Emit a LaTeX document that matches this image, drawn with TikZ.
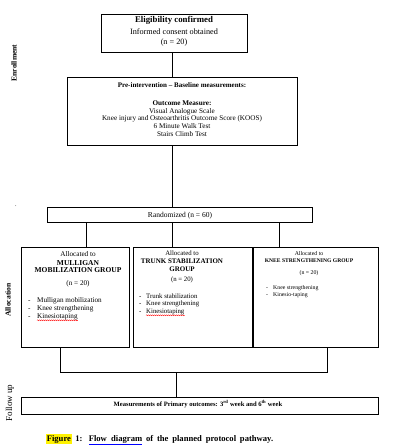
\documentclass[tikz,border=0pt]{standalone}
\usepackage{fontspec}
\setmainfont{Liberation Serif}
\usetikzlibrary{decorations.pathmorphing}
\newcommand\fsz[1]{\fontsize{#1}{#1}\selectfont}
\begin{document}
\begin{tikzpicture}[x=1pt,y=-1pt,
  box/.style={draw, line width=0.75pt, anchor=north west, inner sep=0pt},
  conn/.style={line width=0.75pt},
  t/.style={inner sep=0pt, anchor=base},
  tl/.style={inner sep=0pt, anchor=base west},
  side/.style={inner sep=0pt, anchor=center, rotate=90},
  wavy/.style={red, line width=0.4pt, decorate, decoration={snake, amplitude=0.5pt, segment length=2pt}}]
\useasboundingbox (0,0) rectangle (400,447);
\fill[white] (0,0) rectangle (400,447);

% side labels
\node[side, font=\bfseries\fsz{7.6}] (lenr) at (14,63) {Enrollment};
\node[side, font=\bfseries\fsz{7.6}] (lall) at (8,300) {Allocation};
\node[side, font=\fsz{9}] (lfol) at (10,403) {Follow up};
\node[t, font=\fsz{6}] (dot1) at (16,206) {.};
\node[t, font=\fsz{6}] (dot2) at (62,415) {.};

% boxes
\node[box, minimum width=146pt, minimum height=38pt] (elig) at (101,14) {};
\node[box, minimum width=230pt, minimum height=68pt] (pre) at (67,77) {};
\node[box, minimum width=265pt, minimum height=15pt] (rand) at (47,207) {};
\node[box, minimum width=108pt, minimum height=100pt] (g1) at (21,247) {};
\node[box, minimum width=119pt, minimum height=100pt] (g2) at (133,247) {};
\node[box, minimum width=125pt, minimum height=100pt] (g3) at (253,247) {};
\node[box, minimum width=357pt, minimum height=17pt] (meas) at (21,397) {};

% eligibility text
\node[t, font=\bfseries\fsz{8.8}] (eligA) at (174,23) {Eligibility confirmed};
\node[t, font=\fsz{8.2}] (eligB) at (174,34) {Informed consent obtained};
\node[t, font=\fsz{8.2}] (eligC) at (174,44.5) {(n = 20)};

% pre-intervention text
\node[t, font=\bfseries\fsz{7}] (preA) at (182,87.5) {Pre-intervention – Baseline measurements:};
\node[t, font=\bfseries\fsz{7.2}] (preB) at (182,105.5) {Outcome Measure:};
\node[t, font=\fsz{7.2}] (preC) at (182,113) {Visual Analogue Scale};
\node[t, font=\fsz{7.2}] (preD) at (182,120.5) {Knee injury and Osteoarthritis Outcome Score (KOOS)};
\node[t, font=\fsz{7.2}] (preE) at (182,128.5) {6 Minute Walk Test};
\node[t, font=\fsz{7.2}] (preF) at (182,136.5) {Stairs Climb Test};

% randomized
\node[t, font=\fsz{7.5}] (randT) at (180,217.5) {Randomized (n = 60)};

% group 1
\node[t, font=\fsz{7.2}] (g1a) at (78,256.5) {Allocated to};
\node[t, font=\bfseries\fsz{7.5}] (g1b) at (78,265.5) {MULLIGAN};
\node[t, font=\bfseries\fsz{7.5}] (g1c) at (78,272.5) {MOBILIZATION GROUP};
\node[t, font=\fsz{7.2}] (g1d) at (78,285.5) {(n = 20)};
\node[tl, font=\fsz{7.2}] (g1e0) at (28,302.5) {-};
\node[tl, font=\fsz{7.2}] (g1e) at (37,302.5) {Mulligan mobilization};
\node[tl, font=\fsz{7.2}] (g1f0) at (28,310) {-};
\node[tl, font=\fsz{7.2}] (g1f) at (37,310) {Knee strengthening};
\node[tl, font=\fsz{7.2}] (g1g0) at (28,318.5) {-};
\node[tl, font=\fsz{7.2}] (g1g) at (37,318.5) {Kinesiotaping};
\draw[wavy] ([yshift=-1.8pt]g1g.base west) -- ([yshift=-1.8pt]g1g.base east);

% group 2
\node[t, font=\fsz{6.8}] (g2a) at (182,255) {Allocated to};
\node[t, font=\bfseries\fsz{7}] (g2b) at (182,263.5) {TRUNK STABILIZATION};
\node[t, font=\bfseries\fsz{7}] (g2c) at (182,271) {GROUP};
\node[t, font=\fsz{6.8}] (g2d) at (182,281) {(n = 20)};
\node[tl, font=\fsz{6.8}] (g2e0) at (139,298) {-};
\node[tl, font=\fsz{6.8}] (g2e) at (146,298) {Trunk stabilization};
\node[tl, font=\fsz{6.8}] (g2f0) at (139,305.5) {-};
\node[tl, font=\fsz{6.8}] (g2f) at (146,305.5) {Knee strengthening};
\node[tl, font=\fsz{6.8}] (g2g0) at (139,313.5) {-};
\node[tl, font=\fsz{6.8}] (g2g) at (146,313.5) {Kinesiotaping};
\draw[wavy] ([yshift=-1.8pt]g2g.base west) -- ([yshift=-1.8pt]g2g.base east);

% group 3
\node[t, font=\fsz{5.8}] (g3a) at (309,255) {Allocated to};
\node[t, font=\bfseries\fsz{5.6}] (g3b) at (309,262) {KNEE STRENGTHENING GROUP};
\node[t, font=\fsz{5.8}] (g3c) at (309,274) {(n = 20)};
\node[tl, font=\fsz{5.8}] (g3d0) at (266,289) {-};
\node[tl, font=\fsz{5.8}] (g3d) at (273,289) {Knee strengthening};
\node[tl, font=\fsz{5.8}] (g3e0) at (266,296) {-};
\node[tl, font=\fsz{5.8}] (g3e) at (273,296) {Kinesio-taping};

% measurements
\node[t, font=\bfseries\fsz{6.6}] (measT) at (198,406.5) {Measurements of Primary outcomes: 3\textsuperscript{rd} week and 6\textsuperscript{th} week};

% caption
\node[inner sep=0pt, anchor=base west, font=\bfseries\fsz{8.6}] (cap) at (46,441)
  {\makebox[227pt][s]{{\setlength\fboxsep{0.6pt}\colorbox{yellow}{Figure}} 1: {\color{blue}\underline{\color{black}Flow\ \ diagram}} of the planned protocol pathway.}};

% connectors
\coordinate (c1) at (172,0);
\coordinate (r1) at (86,0);
\coordinate (r2) at (172,0);
\coordinate (r3) at (279,0);
\coordinate (b1) at (60,372);
\coordinate (b3) at (327,372);
\coordinate (bm) at (176,372);
\draw[conn] (c1 |- elig.south) -- (c1 |- pre.north);
\draw[conn] (c1 |- pre.south) -- (c1 |- rand.north);
\draw[conn] (r1 |- rand.south) -- (r1 |- g1.north);
\draw[conn] (r2 |- rand.south) -- (r2 |- g2.north);
\draw[conn] (r3 |- rand.south) -- (r3 |- g3.north);
\draw[conn] (b1 |- g1.south) -- (b1) -- (b3) -- (b3 |- g3.south);
\draw[conn] (bm) -- (bm |- meas.north);
\end{tikzpicture}
\end{document}
